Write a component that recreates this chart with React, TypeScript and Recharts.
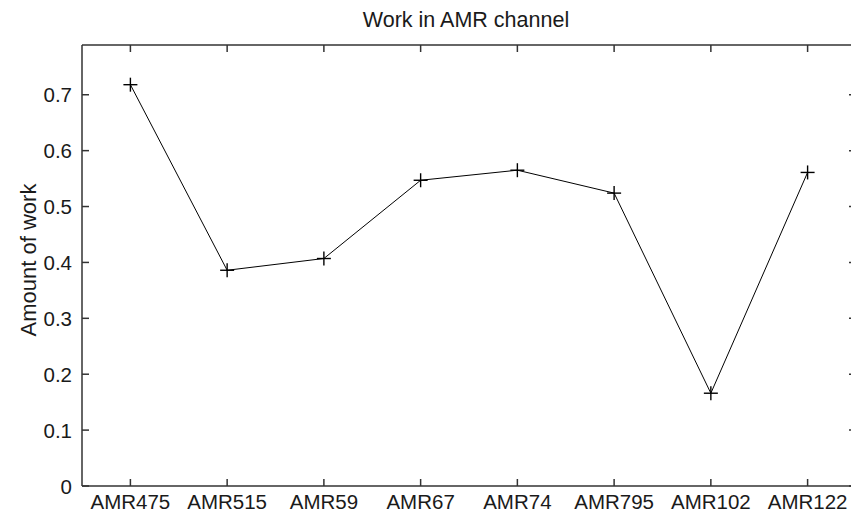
import React from 'react';
import { LineChart, Line, XAxis, YAxis } from 'recharts';

const categories = ['AMR475', 'AMR515', 'AMR59', 'AMR67', 'AMR74', 'AMR795', 'AMR102', 'AMR122'];
const workValues = [0.718, 0.386, 0.407, 0.547, 0.565, 0.524, 0.166, 0.561];
const yTicks = [0, 0.1, 0.2, 0.3, 0.4, 0.5, 0.6, 0.7];
const yTickLabels = ['0', '0.1', '0.2', '0.3', '0.4', '0.5', '0.6', '0.7'];
const yMax = 0.789;
const titleText = 'Work in AMR channel';
const yLabelText = 'Amount of work';

const data = categories.map((c, i) => ({ name: c, work: workValues[i] }));

const FONT = '"Liberation Sans", Arial, sans-serif';
const TXT = '#1a1a1a';
const FRAME = '#333';
const TICK = 7;

const BottomTick = (props: any) => {
  const { x, y, payload } = props;
  return (
    <g>
      <line x1={x} x2={x} y1={y} y2={y - TICK} stroke={FRAME} strokeWidth={1.5} />
      <text x={x} y={y + 22.5} textAnchor="middle" fontFamily={FONT} fontSize={20.5} fill={TXT}>
        {payload.value}
      </text>
    </g>
  );
};

const TopTick = (props: any) => {
  const { x, y } = props;
  return <line x1={x} x2={x} y1={y} y2={y + TICK} stroke={FRAME} strokeWidth={1.5} />;
};

const LeftTick = (props: any) => {
  const { x, y, payload } = props;
  const idx = yTicks.indexOf(payload.value);
  return (
    <g>
      <line x1={x} x2={x + TICK} y1={y} y2={y} stroke={FRAME} strokeWidth={1.5} />
      <text x={x - 10} y={y + 7.5} textAnchor="end" fontFamily={FONT} fontSize={20.5} fill={TXT}>
        {idx >= 0 ? yTickLabels[idx] : payload.value}
      </text>
    </g>
  );
};

const RightTick = (props: any) => {
  const { x, y } = props;
  return <line x1={x} x2={x - TICK} y1={y} y2={y} stroke={FRAME} strokeWidth={1.5} />;
};

const PlusDot = (props: any) => {
  const { cx, cy, index } = props;
  if (cx == null || cy == null) return <g key={`d-${index}`} />;
  return (
    <g key={`d-${index}`}>
      <line x1={cx - 7} x2={cx + 7} y1={cy} y2={cy} stroke="#000" strokeWidth={1.4} />
      <line x1={cx} x2={cx} y1={cy - 7} y2={cy + 7} stroke="#000" strokeWidth={1.4} />
    </g>
  );
};

export default function App() {
  return (
    <div style={{ position: 'absolute', left: 0, top: 0, width: 851, height: 514, overflow: 'hidden', background: '#fff' }}>
      <LineChart width={860} height={514} data={data} margin={{ top: 0, right: 0, bottom: 0, left: 0 }}>
        <XAxis
          dataKey="name"
          height={28}
          padding={{ left: 48.4, right: 48.4 }}
          tickSize={0}
          tickMargin={0}
          tick={<BottomTick />}
          tickLine={false}
          axisLine={{ stroke: FRAME, strokeWidth: 1.5 }}
          interval={0}
        />
        <XAxis
          xAxisId="top"
          orientation="top"
          dataKey="name"
          height={45}
          padding={{ left: 48.4, right: 48.4 }}
          tickSize={0}
          tickMargin={0}
          tick={<TopTick />}
          tickLine={false}
          axisLine={{ stroke: FRAME, strokeWidth: 1.5 }}
          interval={0}
        />
        <YAxis
          width={82}
          domain={[0, yMax]}
          ticks={yTicks}
          type="number"
          allowDataOverflow
          tickSize={0}
          tickMargin={0}
          tick={<LeftTick />}
          tickLine={false}
          axisLine={{ stroke: FRAME, strokeWidth: 1.5 }}
          interval={0}
        />
        <YAxis
          yAxisId="right"
          orientation="right"
          width={4}
          domain={[0, yMax]}
          ticks={yTicks}
          type="number"
          allowDataOverflow
          tickSize={0}
          tickMargin={0}
          tick={<RightTick />}
          tickLine={false}
          axisLine={{ stroke: FRAME, strokeWidth: 1.5 }}
          interval={0}
        />
        <Line
          type="linear"
          dataKey="work"
          stroke="#000"
          strokeWidth={1}
          dot={<PlusDot />}
          activeDot={false}
          isAnimationActive={false}
        />
        <text x={466} y={27} textAnchor="middle" fontFamily={FONT} fontSize={21.5} fill={TXT}>
          {titleText}
        </text>
        <text
          x={36}
          y={260}
          textAnchor="middle"
          fontFamily={FONT}
          fontSize={22}
          fill={TXT}
          transform="rotate(-90 36 260)"
        >
          {yLabelText}
        </text>
      </LineChart>
    </div>
  );
}
